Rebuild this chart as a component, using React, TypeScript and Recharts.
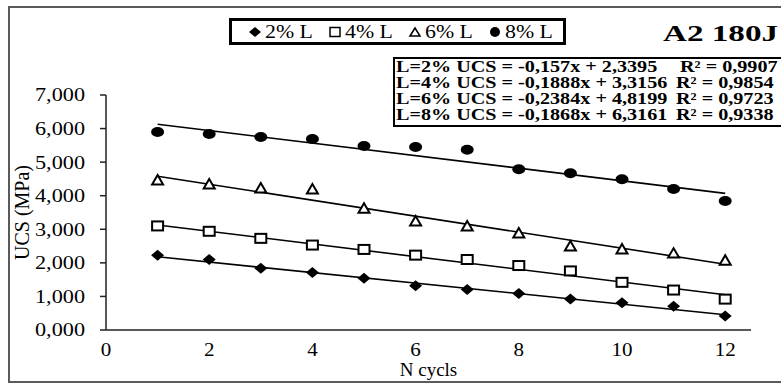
import { Scatter, ScatterChart, XAxis, YAxis, Label } from "recharts";

const cycles = [1, 2, 3, 4, 5, 6, 7, 8, 9, 10, 11, 12];
const ucs2 = [2.23, 2.1, 1.84, 1.71, 1.54, 1.32, 1.21, 1.09, 0.92, 0.81, 0.71, 0.42];
const ucs4 = [3.1, 2.94, 2.73, 2.53, 2.4, 2.23, 2.1, 1.92, 1.76, 1.42, 1.19, 0.92];
const ucs6 = [4.47, 4.35, 4.23, 4.2, 3.63, 3.25, 3.1, 2.89, 2.5, 2.41, 2.29, 2.08];
const ucs8 = [5.9, 5.84, 5.75, 5.69, 5.48, 5.45, 5.37, 4.79, 4.67, 4.49, 4.2, 3.84];

// trend line end points (x = 1 and x = 12)
const trendX = [1, 12];
const trend2 = [2.18, 0.455];
const trend4 = [3.13, 1.05];
const trend6 = [4.58, 1.96];
const trend8 = [6.13, 4.07];

const seriesNames = ["2% L", "4% L", "6% L", "8% L"];
const equations = [
  "L=2% UCS = -0,157x + 2,3395",
  "L=4% UCS = -0,1888x + 3,3156",
  "L=6% UCS = -0,2384x + 4,8199",
  "L=8% UCS = -0,1868x + 6,3161",
];
const rSquared = ["R² = 0,9907", "R² = 0,9854", "R² = 0,9723", "R² = 0,9338"];
const yTicks = [0, 1, 2, 3, 4, 5, 6, 7];
const xTicks = [0, 2, 4, 6, 8, 10, 12];

const toPoints = (ys) => cycles.map((n, i) => ({ n, v: ys[i] }));
const toTrend = (ys) => trendX.map((n, i) => ({ n, v: ys[i] }));

const FONT = "'Liberation Serif', 'Times New Roman', serif";

/** --------- Markers --------- */
const Diamond = ({ cx, cy }) => (
  <polygon points={`${cx - 6.5},${cy} ${cx},${cy - 5.5} ${cx + 6.5},${cy} ${cx},${cy + 5.5}`} fill="#000" />
);
const Square = ({ cx, cy }) => (
  <rect x={cx - 5.5} y={cy - 4.5} width={11} height={9} fill="#fff" stroke="#000" strokeWidth={2} />
);
const Triangle = ({ cx, cy }) => (
  <polygon points={`${cx - 5.5},${cy + 4.5} ${cx},${cy - 5} ${cx + 5.5},${cy + 4.5}`} fill="#fff" stroke="#000" strokeWidth={2} />
);
const Dot = ({ cx, cy }) => <ellipse cx={cx} cy={cy} rx={6.5} ry={5} fill="#000" />;
const NoShape = () => null;

const markers = [Diamond, Square, Triangle, Dot];

const LegendIcon = ({ kind }) => (
  <svg width={14} height={14} style={{ marginRight: 3 }}>
    {kind === 0 ? (
      <polygon points="1,7 7,2 13,7 7,12" fill="#000" />
    ) : kind === 3 ? (
      <circle cx={7} cy={7} r={5} fill="#000" />
    ) : kind === 1 ? (
      <rect x={2} y={2.5} width={10} height={9} fill="#fff" stroke="#000" strokeWidth={1.5} />
    ) : (
      <polygon points="2,11 7,3 12,11" fill="#fff" stroke="#000" strokeWidth={1.5} />
    )}
  </svg>
);

const LegendBox = () => (
  <div
    style={{
      position: "absolute",
      left: 229,
      top: 18,
      border: "3px solid #000",
      height: 21,
      width: 315,
      display: "flex",
      alignItems: "center",
      paddingLeft: 16,
      boxSizing: "content-box",
      background: "#fff",
    }}
  >
    {seriesNames.map((name, i) => (
      <span
        key={name}
        style={{ display: "inline-flex", alignItems: "center", width: i < 3 ? 80 : "auto", fontFamily: FONT, fontSize: 19 }}
      >
        <LegendIcon kind={i} />
        <span style={{ display: "inline-block", transform: "scaleX(1.15)", transformOrigin: "left" }}>{name}</span>
      </span>
    ))}
  </div>
);

/** --------- Ticks --------- */
const YTick = ({ x, y, payload }) => (
  <text
    x={x}
    y={y}
    textAnchor="end"
    dominantBaseline="central"
    fontFamily={FONT}
    fontSize={19}
    fill="#000"
    transform={`translate(${x},${y}) scale(1.17,1) translate(${-x},${-y})`}
  >
    {`${payload.value},000`}
  </text>
);

const XTick = ({ x, payload }) => (
  <text
    x={x}
    y={350}
    textAnchor="middle"
    dominantBaseline="central"
    fontFamily={FONT}
    fontSize={18}
    fill="#000"
    transform={`translate(${x},350) scale(1.17,1) translate(${-x},-350)`}
  >
    {payload.value}
  </text>
);

const App = () => {
  const series = [ucs2, ucs4, ucs6, ucs8];
  const trends = [trend2, trend4, trend6, trend8];
  return (
    <div style={{ position: "absolute", left: 0, top: 0, width: 781, height: 383, overflow: "hidden", background: "#fff" }}>
      {/* outer frame */}
      <div
        style={{
          position: "absolute",
          left: 8,
          top: 6,
          width: 800,
          height: 373,
          border: "2.5px solid #5a5a5a",
          borderRightWidth: 0,
        }}
      />
      <ScatterChart
        width={781}
        height={383}
        margin={{ top: 95, right: 30, bottom: 0, left: 0 }}
        style={{ position: "absolute", left: 0, top: 0 }}
      >
        <XAxis
          type="number"
          dataKey="n"
          domain={[0, 12.5]}
          ticks={xTicks}
          height={53}
          tickLine={false}
          axisLine={{ stroke: "#222", strokeWidth: 1.5 }}
          tick={<XTick />}
          allowDataOverflow
        >
          <Label
            value="N cycls"
            position="insideTop"
            offset={33}
            style={{ fontFamily: FONT, fontSize: 19, fill: "#000" }}
          />
        </XAxis>
        <YAxis
          type="number"
          dataKey="v"
          domain={[0, 7]}
          ticks={yTicks}
          width={106}
          tickSize={6}
          tickMargin={15}
          axisLine={{ stroke: "#222", strokeWidth: 1.5 }}
          tickLine={{ stroke: "#222", strokeWidth: 1.5 }}
          tick={<YTick />}
        >
          <Label
            value="UCS (MPa)"
            angle={-90}
            position="insideLeft"
            offset={22}
            style={{ fontFamily: FONT, fontSize: 20, fill: "#000", textAnchor: "middle" }}
          />
        </YAxis>
        {trends.map((t, i) => (
          <Scatter
            key={`t${i}`}
            data={toTrend(t)}
            line={{ stroke: "#000", strokeWidth: 1.6 }}
            shape={<NoShape />}
            legendType="none"
            isAnimationActive={false}
          />
        ))}
        {series.map((s, i) => {
          const Shape = markers[i];
          return (
            <Scatter
              key={seriesNames[i]}
              name={seriesNames[i]}
              data={toPoints(s)}
              shape={<Shape />}
              isAnimationActive={false}
            />
          );
        })}
      </ScatterChart>
      <LegendBox />
      {/* title */}
      <div
        style={{
          position: "absolute",
          left: 663,
          top: 20,
          fontFamily: FONT,
          fontWeight: "bold",
          fontSize: 24,
          whiteSpace: "nowrap",
          transform: "scaleX(1.38)",
          transformOrigin: "left",
        }}
      >
        A2 180J
      </div>
      {/* equations box */}
      <div
        style={{
          position: "absolute",
          left: 393,
          top: 57,
          width: 400,
          height: 66,
          border: "2px solid #000",
          background: "#fff",
        }}
      >
        {equations.map((eq, i) => (
          <div key={eq} style={{ position: "relative", height: 16, fontFamily: FONT, fontWeight: "bold", fontSize: 16, lineHeight: "16px", whiteSpace: "nowrap" }}>
            <span style={{ position: "absolute", left: 1, transform: "scaleX(1.26)", transformOrigin: "left" }}>{eq}</span>
            <span style={{ position: "absolute", left: i === 0 ? 285 : 281, transform: "scaleX(1.26)", transformOrigin: "left" }}>
              {rSquared[i]}
            </span>
          </div>
        ))}
      </div>
    </div>
  );
};

export default App;
